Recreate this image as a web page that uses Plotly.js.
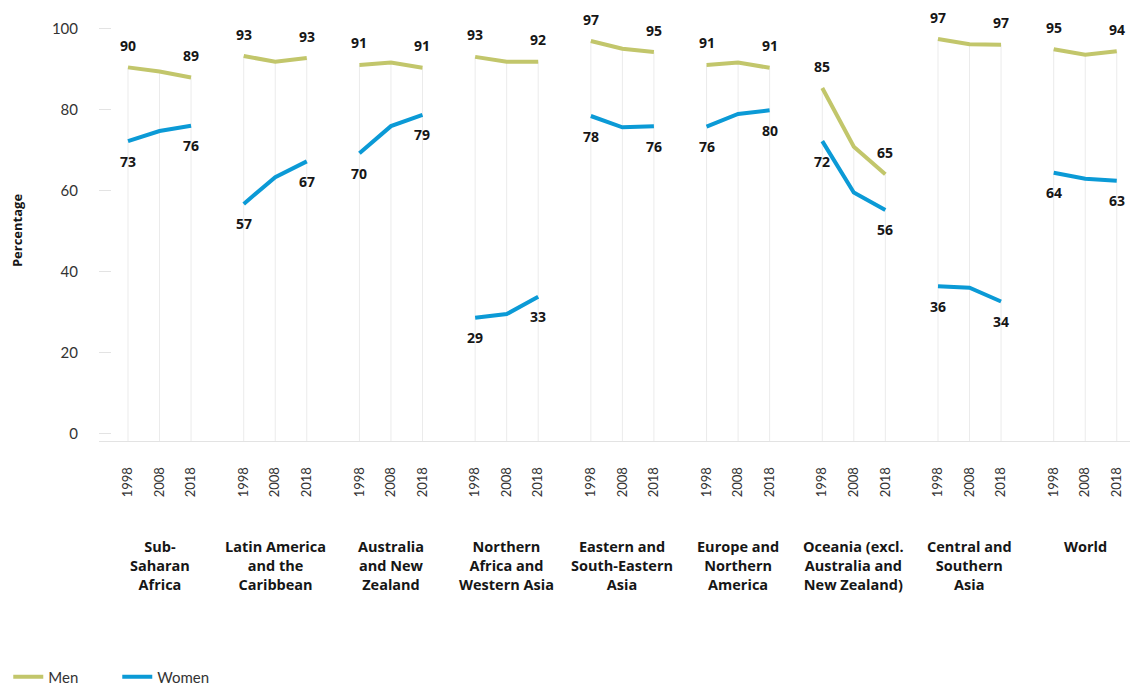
<!DOCTYPE html>
<html>
<head>
<meta charset="utf-8">
<script src="https://cdn.plot.ly/plotly-3.0.1.min.js"></script>
<style>html,body{margin:0;padding:0;background:#fff;}#chart{width:1130px;height:685px;}</style>
</head>
<body>
<div id="chart"></div>
<script>
// ---- data ----
const regions = [
  "Sub-<br>Saharan<br>Africa",
  "Latin America<br>and the<br>Caribbean",
  "Australia<br>and New<br>Zealand",
  "Northern<br>Africa and<br>Western Asia",
  "Eastern and<br>South-Eastern<br>Asia",
  "Europe and<br>Northern<br>America",
  "Oceania (excl.<br>Australia and<br>New Zealand)",
  "Central and<br>Southern<br>Asia",
  "World"
];
const years = ["1998", "2008", "2018"];
const men = [
  [90.5, 89.5, 88.0],
  [93.3, 91.9, 92.8],
  [91.1, 91.7, 90.4],
  [93.1, 91.9, 91.9],
  [97.0, 95.1, 94.3],
  [91.1, 91.7, 90.4],
  [85.4, 70.9, 64.1],
  [97.5, 96.2, 96.1],
  [95.0, 93.6, 94.5]
];
const women = [
  [72.3, 74.8, 76.1],
  [56.8, 63.4, 67.3],
  [69.3, 76.0, 78.8],
  [28.7, 29.6, 33.9],
  [78.5, 75.7, 76.0],
  [75.9, 79.0, 79.9],
  [72.3, 59.6, 55.3],
  [36.5, 36.1, 32.7],
  [64.5, 63.0, 62.5]
];
// value labels shown at 1998 and 2018
const menLabels = [[90, 89], [93, 93], [91, 91], [93, 92], [97, 95], [91, 91], [85, 65], [97, 97], [95, 94]];
const womenLabels = [[73, 76], [57, 67], [70, 79], [29, 33], [78, 76], [76, 80], [72, 56], [36, 34], [64, 63]];
const yTicks = [0, 20, 40, 60, 80, 100];

// ---- layout helpers ----
const MEN_COLOR = "#c2c66b";
const WOMEN_COLOR = "#0b9ad6";
const GROUP_STEP = 3.67;
const Y_MIN = -1.73, Y_MAX = 102.2;
const FONT = "Lato, 'Open Sans', sans-serif";
const BOLD_FONT = "'Open Sans', Lato, sans-serif";
const pos = (g, j) => g * GROUP_STEP + j;

const tickvals = [], ticktext = [];
const dropX = [], dropY = [];
const mx = [], my = [], wx = [], wy = [];
regions.forEach((r, g) => {
  years.forEach((yr, j) => {
    const x = pos(g, j);
    tickvals.push(x); ticktext.push(yr);
    dropX.push(x, x, null); dropY.push(Y_MIN, men[g][j], null);
    mx.push(x); my.push(men[g][j]);
    wx.push(x); wy.push(women[g][j]);
  });
  mx.push(null); my.push(null); wx.push(null); wy.push(null);
});

const annotations = [];
regions.forEach((r, g) => {
  [0, 2].forEach((j, k) => {
    annotations.push({x: pos(g, j), y: men[g][j], xref: "x", yref: "y", text: String(menLabels[g][k]),
      showarrow: false, yshift: 22, font: {family: BOLD_FONT, size: 14, color: "#161616", weight: 700}});
    annotations.push({x: pos(g, j), y: women[g][j], xref: "x", yref: "y", text: String(womenLabels[g][k]),
      showarrow: false, yshift: -20, font: {family: BOLD_FONT, size: 14, color: "#161616", weight: 700}});
  });
  annotations.push({x: pos(g, 1), y: -0.224, xref: "x", yref: "paper", yanchor: "top", text: r,
    showarrow: false, align: "center", font: {family: BOLD_FONT, size: 14.5, color: "#161616", weight: 700}});
});

const traces = [
  {type: "scatter", mode: "lines", x: dropX, y: dropY, line: {color: "#ebebeb", width: 1},
   showlegend: false, hoverinfo: "skip"},
  {type: "scatter", mode: "lines", name: "Men", x: mx, y: my, line: {color: MEN_COLOR, width: 4}},
  {type: "scatter", mode: "lines", name: "Women", x: wx, y: wy, line: {color: WOMEN_COLOR, width: 4}}
];

const layout = {
  width: 1130, height: 685,
  margin: {l: 99, r: 0, t: 20, b: 244, autoexpand: false},
  paper_bgcolor: "#fff", plot_bgcolor: "#fff",
  font: {family: FONT, size: 13, color: "#333"},
  showlegend: true,
  legend: {orientation: "h", x: -0.088, xanchor: "left", y: -0.5606, yanchor: "middle",
    entrywidth: 64, entrywidthmode: "pixels", font: {family: FONT, size: 15, color: "#333"}},
  xaxis: {
    range: [-0.92, pos(regions.length - 1, 2) + 0.42],
    tickvals: tickvals, ticktext: ticktext, tickangle: -90,
    showgrid: false, zeroline: false, showline: true, linecolor: "#e3e3e3", linewidth: 1,
    ticks: "", ticklabelstandoff: 20, tickfont: {family: FONT, size: 13, color: "#333"}
  },
  yaxis: {
    range: [Y_MIN, Y_MAX], tickvals: yTicks, showgrid: false, zeroline: false, showline: false,
    ticks: "inside", ticklen: 12, tickcolor: "#e3e3e3", tickwidth: 1,
    ticklabelstandoff: 20, tickfont: {family: FONT, size: 15, color: "#333"},
    title: {text: "Percentage", standoff: 26, font: {family: BOLD_FONT, size: 13, color: "#161616", weight: 700}}
  },
  annotations: annotations,
  hovermode: false
};

Plotly.newPlot("chart", traces, layout, {displayModeBar: false, staticPlot: true});
</script>
</body>
</html>
